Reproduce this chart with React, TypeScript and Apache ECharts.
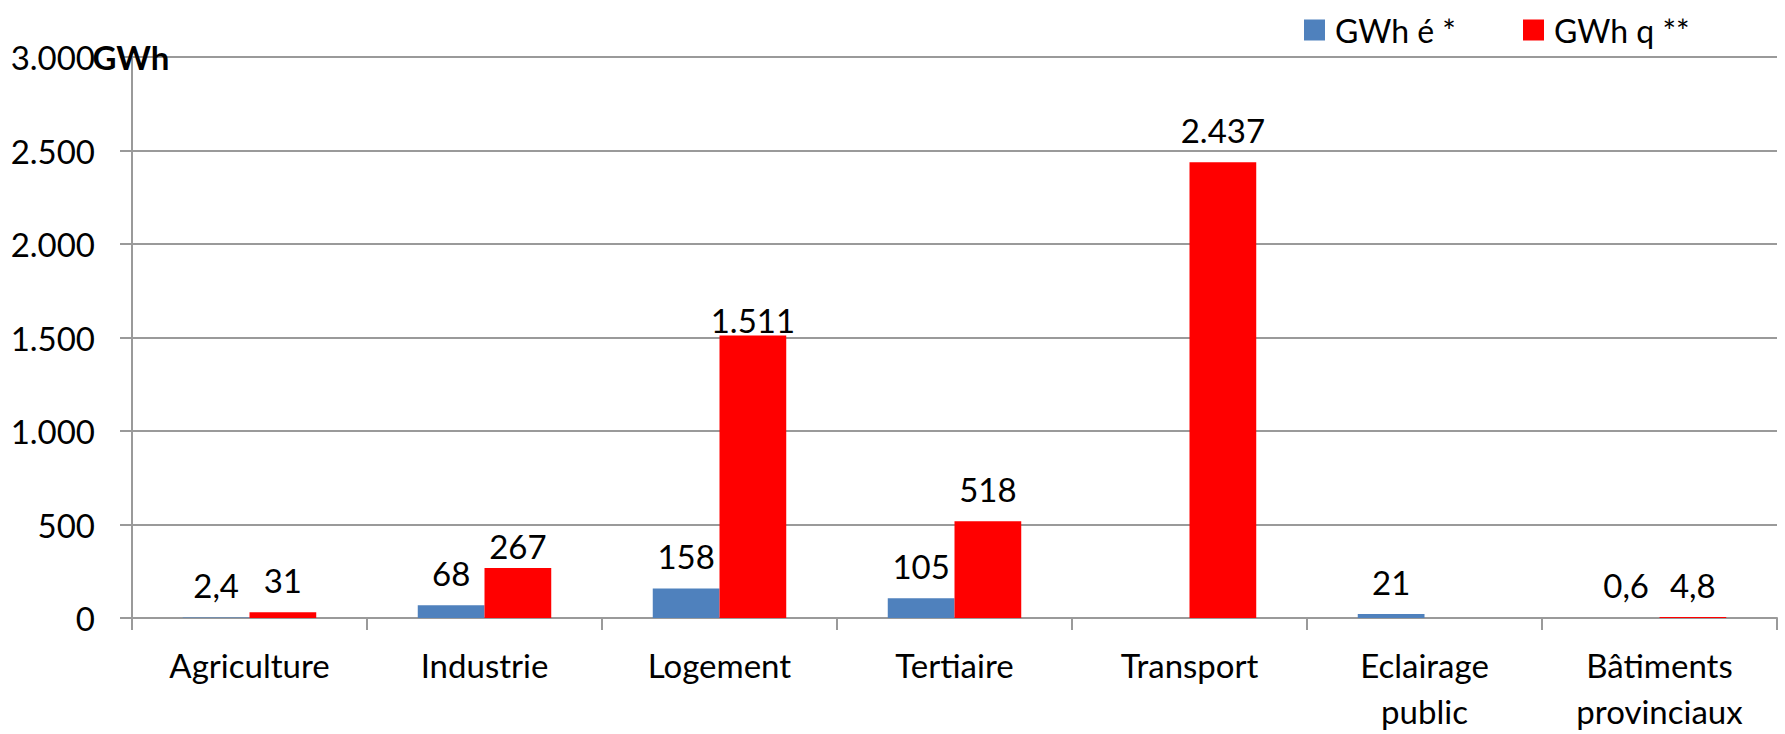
import React, { useEffect, useRef } from "react";
import * as echarts from "echarts";

const categories = [
  "Agriculture",
  "Industrie",
  "Logement",
  "Tertiaire",
  "Transport",
  "Eclairage\npublic",
  "Bâtiments\nprovinciaux",
];
const seriesNames = ["GWh é *", "GWh q **"];
const elecValues: (number | null)[] = [2.4, 68, 158, 105, null, 21, 0.6];
const heatValues: (number | null)[] = [31, 267, 1511, 518, 2437, null, 4.8];
const yTicks = { min: 0, max: 3000, interval: 500 };
const unitLabel = "GWh";

// label nudges (px downward) for a few data labels, as in the reference
const elecLabelNudge = [0, 0, 0, 0, 0, 0, 0];
const heatLabelNudge = [0, 10, 17, 0, 0, 0, 0];

const FONT = "Lato";
const BLUE = "#4F81BD";
const RED = "#FF0000";
const GRID = "#9a9a9a";

function fmt(v: number): string {
  if (v >= 1000) {
    const s = Math.round(v).toString();
    return s.replace(/\B(?=(\d{3})+(?!\d))/g, ".");
  }
  return String(v).replace(".", ",");
}

function buildData(values: (number | null)[], nudge: number[]) {
  return values.map((v, i) =>
    v === null
      ? { value: null }
      : { value: v, label: { offset: [0, nudge[i]] } }
  );
}

export default function App() {
  const ref = useRef<HTMLDivElement>(null);
  useEffect(() => {
    if (!ref.current) return;
    const chart = echarts.init(ref.current, undefined, { renderer: "svg" });
    const labelCommon = {
      show: true,
      position: "top",
      distance: 16,
      color: "#000",
      fontFamily: FONT,
      fontSize: 33,
      formatter: (p: any) => (p.value === null || p.value === undefined ? "" : fmt(p.value)),
    };
    const legendCommon = {
      top: 14,
      padding: 0,
      itemWidth: 21,
      itemHeight: 21,
      icon: "rect",
      textStyle: { fontFamily: FONT, fontSize: 32, color: "#000", padding: [0, 0, 0, 5] },
    };
    chart.setOption({
      animation: false,
      backgroundColor: "#fff",
      textStyle: { fontFamily: FONT },
      grid: { left: 132, right: 8, top: 57, bottom: 112, containLabel: false },
      legend: [
        { ...legendCommon, data: [seriesNames[0]], left: 1304 },
        { ...legendCommon, data: [seriesNames[1]], left: 1523 },
      ],
      graphic: [
        {
          type: "text",
          x: 131,
          y: 57,
          z: 100,
          style: {
            text: unitLabel,
            fontFamily: FONT,
            fontSize: 33,
            fontWeight: "bold",
            fill: "#000",
            align: "center",
            verticalAlign: "middle",
          },
        },
      ],
      xAxis: {
        type: "category",
        data: categories,
        boundaryGap: true,
        axisLine: { show: true, lineStyle: { color: GRID, width: 2 } },
        axisTick: { show: true, interval: 0, length: 12, inside: false, lineStyle: { color: GRID, width: 2 } },
        axisLabel: {
          interval: 0,
          margin: 24,
          color: "#000",
          fontFamily: FONT,
          fontSize: 33,
          lineHeight: 46,
        },
      },
      yAxis: {
        type: "value",
        min: yTicks.min,
        max: yTicks.max,
        interval: yTicks.interval,
        axisLine: { show: true, lineStyle: { color: GRID, width: 2 } },
        axisTick: { show: true, length: 12, inside: false, lineStyle: { color: GRID, width: 2 } },
        splitLine: { show: true, lineStyle: { color: GRID, width: 2 } },
        axisLabel: {
          margin: 37,
          color: "#000",
          fontFamily: FONT,
          fontSize: 33,
          formatter: (v: number) => fmt(v),
        },
      },
      series: [
        {
          name: seriesNames[0],
          type: "bar",
          data: buildData(elecValues, elecLabelNudge),
          itemStyle: { color: BLUE },
          barWidth: "28.4%",
          barGap: "0%",
          label: labelCommon,
        },
        {
          name: seriesNames[1],
          type: "bar",
          data: buildData(heatValues, heatLabelNudge),
          itemStyle: { color: RED },
          barWidth: "28.4%",
          barGap: "0%",
          label: labelCommon,
        },
      ],
    });
    return () => chart.dispose();
  }, []);
  return (
    <div
      ref={ref}
      style={{ position: "fixed", left: 0, top: 0, width: 1785, height: 734, background: "#fff" }}
    />
  );
}
